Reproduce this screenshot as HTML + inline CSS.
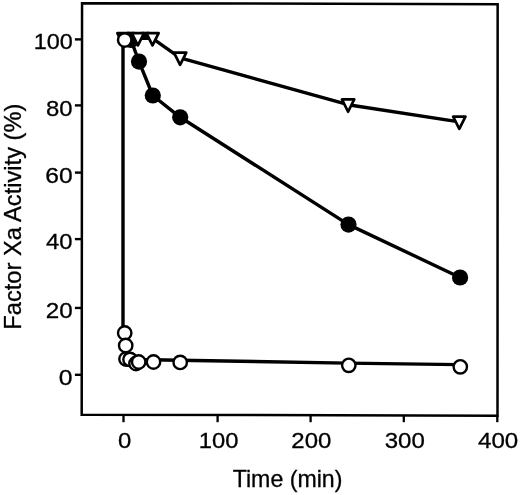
<!DOCTYPE html>
<html><head><meta charset="utf-8"><style>
html,body{margin:0;padding:0;background:#fff;}
svg{display:block;will-change:transform;}
svg text{font-family:"Liberation Sans",sans-serif;fill:#000;}
</style></head><body>
<svg width="520" height="495" viewBox="0 0 520 495">
<path d="M82.05,3.15 L497.65,4.25 L497.5,415.7 L81.7,414.7 Z" fill="none" stroke="#000" stroke-width="2.5" stroke-linejoin="miter"/>
<line x1="74.9" y1="39.4" x2="82" y2="39.4" stroke="#000" stroke-width="2.4"/>
<line x1="74.9" y1="105.4" x2="82" y2="105.4" stroke="#000" stroke-width="2.4"/>
<line x1="74.9" y1="172.6" x2="82" y2="172.6" stroke="#000" stroke-width="2.4"/>
<line x1="74.9" y1="239.1" x2="82" y2="239.1" stroke="#000" stroke-width="2.4"/>
<line x1="74.9" y1="307.95" x2="82" y2="307.95" stroke="#000" stroke-width="2.4"/>
<line x1="74.9" y1="374.8" x2="82" y2="374.8" stroke="#000" stroke-width="2.4"/>
<line x1="123.5" y1="415" x2="123.5" y2="422.2" stroke="#000" stroke-width="2.3"/>
<line x1="217.6" y1="415" x2="217.6" y2="422.2" stroke="#000" stroke-width="2.3"/>
<line x1="310.6" y1="415" x2="310.6" y2="422.2" stroke="#000" stroke-width="2.3"/>
<line x1="403.8" y1="415" x2="403.8" y2="422.2" stroke="#000" stroke-width="2.3"/>
<line x1="497.3" y1="415" x2="497.3" y2="422.2" stroke="#000" stroke-width="2.3"/>
<polyline points="131.00,40.00 139.00,61.60 152.80,95.50 180.20,117.30 348.50,224.60 460.10,277.50" fill="none" stroke="#000" stroke-width="3.4" stroke-linejoin="round" stroke-linecap="round"/>
<circle cx="131" cy="40.0" r="8.1" fill="#000"/>
<circle cx="139" cy="61.6" r="8.1" fill="#000"/>
<circle cx="152.8" cy="95.5" r="8.1" fill="#000"/>
<circle cx="180.2" cy="117.3" r="8.1" fill="#000"/>
<circle cx="348.5" cy="224.6" r="8.1" fill="#000"/>
<circle cx="460.1" cy="277.5" r="8.1" fill="#000"/>
<polyline points="123.50,38.40 137.90,38.40 152.50,38.40 180.10,57.80 348.10,104.70 459.30,121.90" fill="none" stroke="#000" stroke-width="3.4" stroke-linejoin="round" stroke-linecap="round"/>
<polygon points="141.5,31.8 149.5,31.8 148,39.6 143.5,39.6" fill="#000"/>
<polygon points="127,31.8 134.5,31.8 133,39.6 128.5,39.6" fill="#000"/>
<path d="M117.35,33.15 L129.65,33.15 L123.50,45.45 Z" fill="#fff" stroke="#000" stroke-width="2.7" stroke-linejoin="round"/>
<path d="M131.75,33.15 L144.05,33.15 L137.90,45.45 Z" fill="#fff" stroke="#000" stroke-width="2.7" stroke-linejoin="round"/>
<path d="M146.35,33.15 L158.65,33.15 L152.50,45.45 Z" fill="#fff" stroke="#000" stroke-width="2.7" stroke-linejoin="round"/>
<path d="M173.95,52.55 L186.25,52.55 L180.10,64.85 Z" fill="#fff" stroke="#000" stroke-width="2.7" stroke-linejoin="round"/>
<path d="M341.95,99.45 L354.25,99.45 L348.10,111.75 Z" fill="#fff" stroke="#000" stroke-width="2.7" stroke-linejoin="round"/>
<path d="M453.15,116.65 L465.45,116.65 L459.30,128.95 Z" fill="#fff" stroke="#000" stroke-width="2.7" stroke-linejoin="round"/>
<polyline points="123.00,37.80 123.00,330.80 124.00,343.30 124.30,356.80 128.30,357.20 134.30,361.30 137.00,359.80 151.80,359.80 178.50,360.20 347.10,363.10 458.60,364.60" fill="none" stroke="#000" stroke-width="3.4" stroke-linejoin="round" stroke-linecap="round"/>
<circle cx="124.7" cy="40" r="6.7" fill="#fff" stroke="#000" stroke-width="2.4"/>
<circle cx="124.7" cy="333.0" r="6.7" fill="#fff" stroke="#000" stroke-width="2.4"/>
<circle cx="125.7" cy="345.5" r="6.7" fill="#fff" stroke="#000" stroke-width="2.4"/>
<circle cx="126" cy="359" r="6.7" fill="#fff" stroke="#000" stroke-width="2.4"/>
<circle cx="130" cy="359.4" r="6.7" fill="#fff" stroke="#000" stroke-width="2.4"/>
<circle cx="136" cy="363.5" r="6.7" fill="#fff" stroke="#000" stroke-width="2.4"/>
<circle cx="138.7" cy="362" r="6.7" fill="#fff" stroke="#000" stroke-width="2.4"/>
<circle cx="153.5" cy="362.0" r="6.7" fill="#fff" stroke="#000" stroke-width="2.4"/>
<circle cx="180.2" cy="362.4" r="6.7" fill="#fff" stroke="#000" stroke-width="2.4"/>
<circle cx="348.8" cy="365.3" r="6.7" fill="#fff" stroke="#000" stroke-width="2.4"/>
<circle cx="460.3" cy="366.8" r="6.7" fill="#fff" stroke="#000" stroke-width="2.4"/>
<text transform="translate(33.64,49.37) scale(1.0386,1)" font-size="22.6" stroke="#000" stroke-width="0.3">100</text>
<text transform="translate(45.88,115.57) scale(1.0568,1)" font-size="22.6" stroke="#000" stroke-width="0.3">80</text>
<text transform="translate(45.27,183.17) scale(1.0905,1)" font-size="22.6" stroke="#000" stroke-width="0.3">60</text>
<text transform="translate(45.96,249.37) scale(1.0535,1)" font-size="22.6" stroke="#000" stroke-width="0.3">40</text>
<text transform="translate(45.69,317.77) scale(1.0732,1)" font-size="22.6" stroke="#000" stroke-width="0.3">20</text>
<text transform="translate(58.71,384.87) scale(1.0935,1)" font-size="22.6" stroke="#000" stroke-width="0.3">0</text>
<text transform="translate(118.05,447.57) scale(1.0564,1)" font-size="22.6" stroke="#000" stroke-width="0.3">0</text>
<text transform="translate(198.72,447.57) scale(1.0528,1)" font-size="22.6" stroke="#000" stroke-width="0.3">100</text>
<text transform="translate(291.30,447.77) scale(1.0614,1)" font-size="22.6" stroke="#000" stroke-width="0.3">200</text>
<text transform="translate(384.70,447.97) scale(1.0642,1)" font-size="22.6" stroke="#000" stroke-width="0.3">300</text>
<text transform="translate(477.96,447.77) scale(1.0680,1)" font-size="22.6" stroke="#000" stroke-width="0.3">400</text>
<text transform="translate(232.68,487.1) scale(0.9939,1)" font-size="23.3" stroke="#000" stroke-width="0.3">Time (min)</text>
<text transform="translate(20.6,329.65) rotate(-90) scale(1.0107,1)" font-size="23.4" stroke="#000" stroke-width="0.3">Factor Xa Activity (%)</text>
</svg>
</body></html>
